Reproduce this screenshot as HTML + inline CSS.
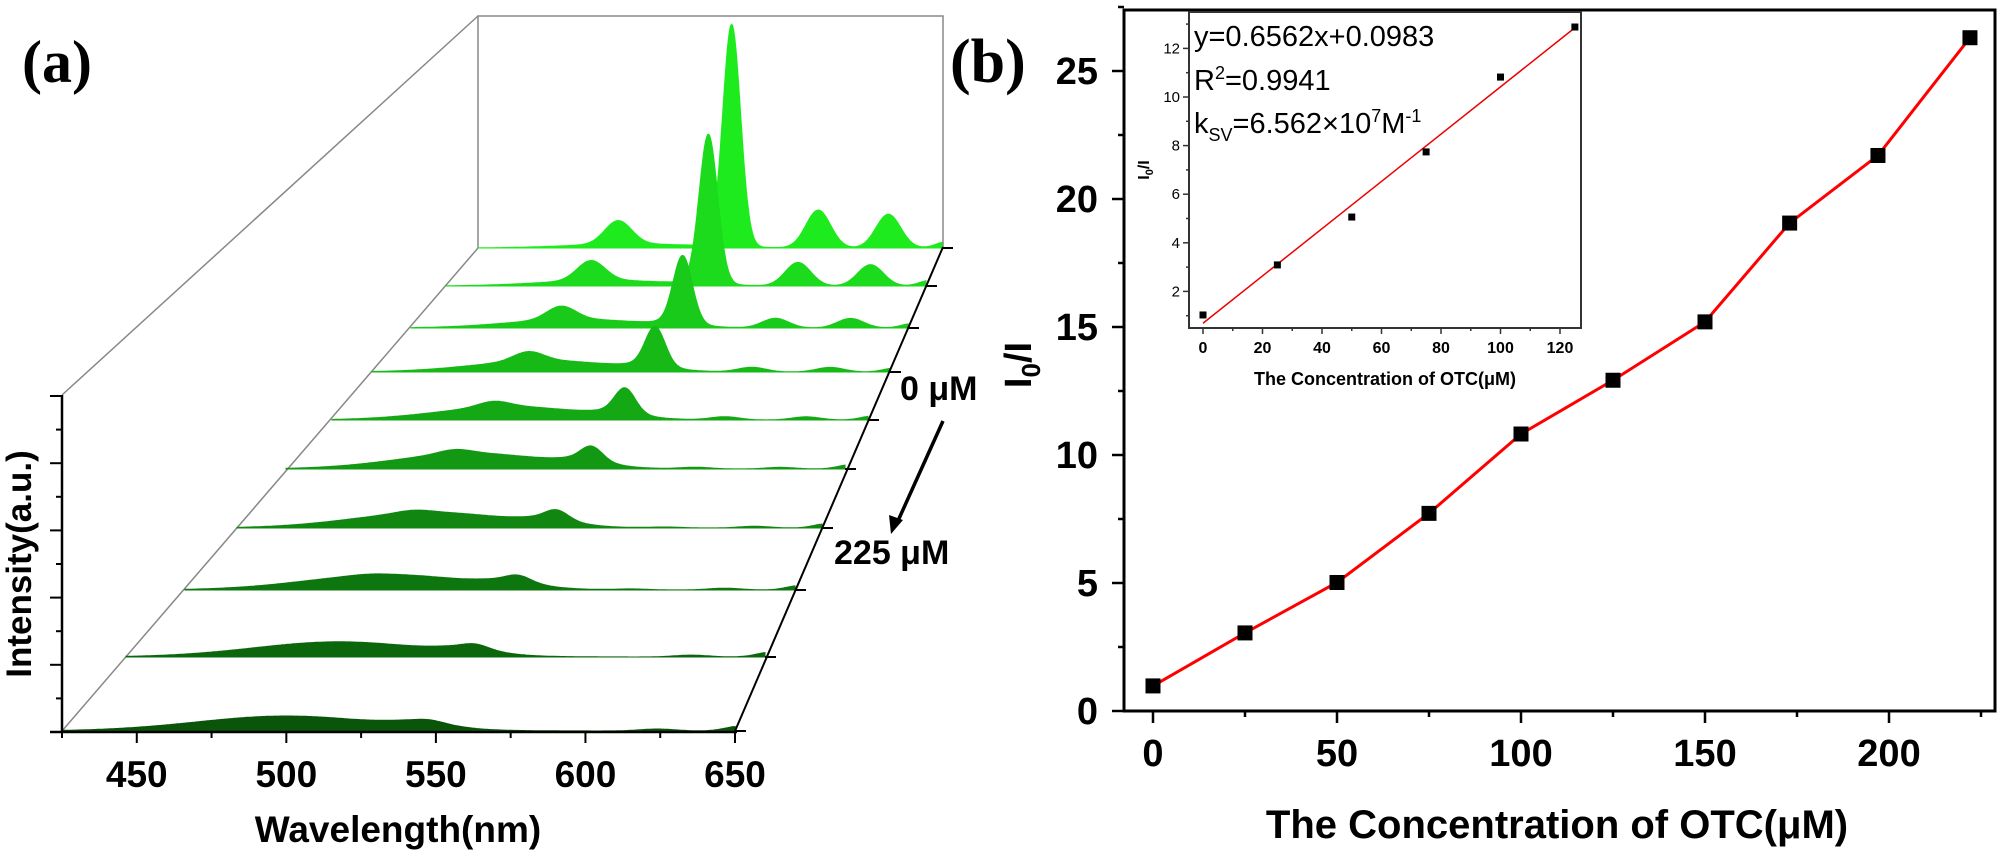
<!DOCTYPE html>
<html><head><meta charset="utf-8"><style>
html,body{margin:0;padding:0;background:#fff;}
svg{display:block;font-family:"Liberation Sans",Arial,sans-serif;}
</style></head><body>
<svg id="fig" width="2000" height="855" viewBox="0 0 2000 855" xmlns="http://www.w3.org/2000/svg">
<g id="panelA"></g>
<g id="panelB"></g>
</svg>
<script>
// ---------- Panel (a) data : spectra (rear = 0 uM ... front = 225 uM) ----------
const concentrations = [0,25,50,75,100,125,150,175,200,225];
const wlTicks = [450,500,550,600,650];
// peak amplitudes (a.u., front-plane pixel scale) per concentration
const broadBand  = [6,8,12,15,17,19,18,17,16,15];     // ~500 nm broad emission
const peak493    = [34,28,18,12,7,5,3,1,0,0];
const peak548    = [321,208,91,50,30,16,10,6,4,2];
const peak590    = [55,33,13,6,4,2,1,1,0,0];
const peak624    = [49,30,13,6,4,2,2,2,2,2];
const tail650    = [9,8,6,5,5,5,5,5,5,5];

// ---------- Panel (b) data ----------
const concB = [0,25,50,75,100,125,150,173,197,222];
const ratioB = [0.98,3.05,5.02,7.72,10.82,12.92,15.2,19.06,21.7,26.3];
const xTicksB = [0,50,100,150,200];
const yTicksB = [0,5,10,15,20,25];
// inset data
const concIn = [0,25,50,75,100,125];
const ratioIn = [1.03,3.09,5.06,7.74,10.82,12.88];
const xTicksIn = [0,20,40,60,80,100,120];
const yTicksIn = [2,4,6,8,10,12];

const NS="http://www.w3.org/2000/svg";
function mk(tag, attrs, parent){const e=document.createElementNS(NS,tag);for(const k in attrs)e.setAttribute(k,attrs[k]);parent.appendChild(e);return e;}

// ===== Panel A =====
const A=document.getElementById('panelA');
const baseY=[731,657,590,528,469,420,372,328,286,248];
const leftX=[62,126,185,237,286,332,372,411,446,478];
const rightX=[735,765,795,822,845,868,890,908,926,942];
const frontW=673;
function gauss(x,c,s){return Math.exp(-0.5*((x-c)/s)**2);}
function spectrum(k,wl){
  return broadBand[k]*gauss(wl,500,30)+peak493[k]*gauss(wl,493,6.5)+peak548[k]*gauss(wl,548,4.3)
   +peak590[k]*gauss(wl,590,6)+peak624[k]*gauss(wl,624,6)+tail650[k]*gauss(wl,652,5)+broadBand[k]*0.35*gauss(wl,545,10);
}
mk('line',{x1:62,y1:395,x2:478,y2:16,stroke:'#888','stroke-width':1.5},A);
mk('line',{x1:62,y1:731,x2:478,y2:248,stroke:'#888','stroke-width':1.5},A);
mk('polyline',{points:'478,248 478,16 943,16 943,248',fill:'none',stroke:'#888','stroke-width':1.5},A);
for(let li=9;li>=0;li--){
  const k=9-li;
  const yb=baseY[li],xl=leftX[li],xr=rightX[li],w=xr-xl,f=w/frontW;
  const t=li/9;
  const r=Math.round(10+20*t),g=Math.round(85+150*t),b=Math.round(10+20*t);
  let d=`M${xl},${yb}`;
  for(let wl=425;wl<=650;wl+=0.5){
    const x=xl+(wl-425)/225*w;const y=yb-spectrum(k,wl)*f;d+=` L${x.toFixed(1)},${y.toFixed(1)}`;
  }
  d+=` L${xr},${yb} Z`;
  const p=mk('path',{d:d,fill:`rgb(${r},${g},${b})`,stroke:`rgb(${r},${g},${b})`,'stroke-width':1},A);
  
  
  mk('line',{x1:xr,y1:yb,x2:xr+11,y2:yb,stroke:'#000','stroke-width':2},A);
}
mk('line',{x1:735,y1:731,x2:943,y2:247,stroke:'#000','stroke-width':2},A);
mk('line',{x1:62,y1:395,x2:62,y2:733,stroke:'#000','stroke-width':2.5},A);
mk('line',{x1:50,y1:732,x2:737,y2:732,stroke:'#000','stroke-width':2.5},A);
for(let i=0;i<=10;i++){
  const y=732-i*33.6;const len=i%2==0?12:6;
  mk('line',{x1:62-len,y1:y,x2:62,y2:y,stroke:'#000','stroke-width':2},A);
}
const xA=wl=>62+(wl-425)/225*673;
for(let wl=425;wl<=650;wl+=25){
  const major=wlTicks.includes(wl);
  mk('line',{x1:xA(wl),y1:732,x2:xA(wl),y2:732+(major?11:6),stroke:'#000','stroke-width':2},A);
}
wlTicks.forEach(v=>{const t=mk('text',{x:xA(v),y:787,'text-anchor':'middle','font-size':37,'font-weight':'bold'},A);t.textContent=v;
});
let tt=mk('text',{x:398,y:842,'text-anchor':'middle','font-size':37,'font-weight':'bold'},A);tt.textContent='Wavelength(nm)';

tt=mk('text',{x:0,y:0,transform:'translate(31,564) rotate(-90)','text-anchor':'middle','font-size':35,'font-weight':'bold'},A);tt.textContent='Intensity(a.u.)';

tt=mk('text',{x:22,y:82,'font-size':60,'font-weight':'bold','font-family':'"Liberation Serif",serif'},A);tt.textContent='(a)';

tt=mk('text',{x:900,y:400,'font-size':34,'font-weight':'bold'},A);tt.textContent='0 μM';

tt=mk('text',{x:834,y:564,'font-size':34,'font-weight':'bold'},A);tt.textContent='225 μM';

mk('line',{x1:943,y1:421,x2:897,y2:523,stroke:'#000','stroke-width':3.5},A);
mk('polygon',{points:'891,534 889,515 903,520',fill:'#000'},A);

// ===== Panel B =====
const B=document.getElementById('panelB');
const L=1124,R=1995,T=10,Bt=711;
const xB=v=>1153+v*3.68, yB=v=>711-v*25.6;
mk('rect',{x:L,y:T,width:R-L,height:Bt-T,fill:'none',stroke:'#000','stroke-width':3},B);
for(let v=0;v<=225;v+=25){const major=v%50==0;
  mk('line',{x1:xB(v),y1:Bt,x2:xB(v),y2:Bt+(major?12:6),stroke:'#000','stroke-width':2.5},B);}
for(let v=0;v<=27.5;v+=2.5){const major=v%5==0;
  mk('line',{x1:L-(major?12:6),y1:yB(v),x2:L,y2:yB(v),stroke:'#000','stroke-width':2.5},B);}
xTicksB.forEach(v=>{const t=mk('text',{x:xB(v),y:766,'text-anchor':'middle','font-size':38,'font-weight':'bold'},B);t.textContent=v;
 });
yTicksB.forEach(v=>{const t=mk('text',{x:1098,y:yB(v)+13,'text-anchor':'end','font-size':38,'font-weight':'bold'},B);t.textContent=v;
 });
tt=mk('text',{x:1557,y:838,'text-anchor':'middle','font-size':40,'font-weight':'bold'},B);tt.textContent='The Concentration of OTC(μM)';

tt=mk('text',{x:0,y:0,transform:'translate(1031,365) rotate(-90)','text-anchor':'middle','font-size':38,'font-weight':'bold'},B);
tt.innerHTML='I<tspan font-size="26" dy="9">0</tspan><tspan dy="-9">/I</tspan>';

tt=mk('text',{x:950,y:82,'font-size':62,'font-weight':'bold','font-family':'"Liberation Serif",serif'},B);tt.textContent='(b)';

mk('polyline',{points:concB.map((c,i)=>xB(c)+','+yB(ratioB[i])).join(' '),fill:'none',stroke:'#f00','stroke-width':3},B);
concB.forEach((c,i)=>{const m=mk('rect',{x:xB(c)-7.5,y:yB(ratioB[i])-7.5,width:15,height:15,fill:'#000'},B);
 });

// ===== Inset =====
const iL=1189,iR=1581,iT=12,iB=328;
const xI=v=>1203+v*2.975, yI=v=>340-v*24.3;
mk('rect',{x:iL,y:iT,width:iR-iL,height:iB-iT,fill:'#fff',stroke:'#333','stroke-width':2},B);
for(let v=0;v<=130;v+=10){if(xI(v)>iR)break;const major=v%20==0;
  mk('line',{x1:xI(v),y1:iB,x2:xI(v),y2:iB+(major?6:3),stroke:'#333','stroke-width':1.5},B);}
for(let v=1;v<=13;v+=1){if(yI(v)<iT)break;const major=v%2==0;
  mk('line',{x1:iL-(major?6:3),y1:yI(v),x2:iL,y2:yI(v),stroke:'#333','stroke-width':1.5},B);}
xTicksIn.forEach(v=>{const t=mk('text',{x:xI(v),y:353,'text-anchor':'middle','font-size':16,'font-weight':'bold'},B);t.textContent=v;
 });
yTicksIn.forEach(v=>{const t=mk('text',{x:iL-9,y:yI(v)+5,'text-anchor':'end','font-size':15},B);t.textContent=v;
 });
tt=mk('text',{x:1385,y:385,'text-anchor':'middle','font-size':18,'font-weight':'bold'},B);tt.textContent='The Concentration of OTC(μM)';

tt=mk('text',{x:0,y:0,transform:'translate(1149,170) rotate(-90)','text-anchor':'middle','font-size':16,'font-weight':'bold'},B);
tt.innerHTML='I<tspan font-size="11" dy="4">0</tspan><tspan dy="-4">/I</tspan>';

const n=concIn.length,mx=concIn.reduce((a,b)=>a+b)/n,my=ratioIn.reduce((a,b)=>a+b)/n;
let sxy=0,sxx=0;concIn.forEach((c,i)=>{sxy+=(c-mx)*(ratioIn[i]-my);sxx+=(c-mx)**2;});
const slope=sxy/sxx,icpt=my-slope*mx;
mk('line',{x1:xI(0),y1:yI(icpt),x2:xI(125),y2:yI(icpt+slope*125),stroke:'#e00','stroke-width':1.5},B);
concIn.forEach((c,i)=>{const m=mk('rect',{x:xI(c)-3.5,y:yI(ratioIn[i])-3.5,width:7,height:7,fill:'#000'},B);
 });
tt=mk('text',{x:1194,y:46,'font-size':29},B);tt.textContent='y=0.6562x+0.0983';

tt=mk('text',{x:1194,y:90,'font-size':29},B);tt.innerHTML='R<tspan font-size="18" dy="-11">2</tspan><tspan dy="11">=0.9941</tspan>';

tt=mk('text',{x:1194,y:133,'font-size':29},B);
tt.innerHTML='k<tspan font-size="18" dy="8">SV</tspan><tspan dy="-8">=6.562×10</tspan><tspan font-size="18" dy="-11">7</tspan><tspan dy="11">M</tspan><tspan font-size="18" dy="-11">-1</tspan>';

</script>
</body></html>
